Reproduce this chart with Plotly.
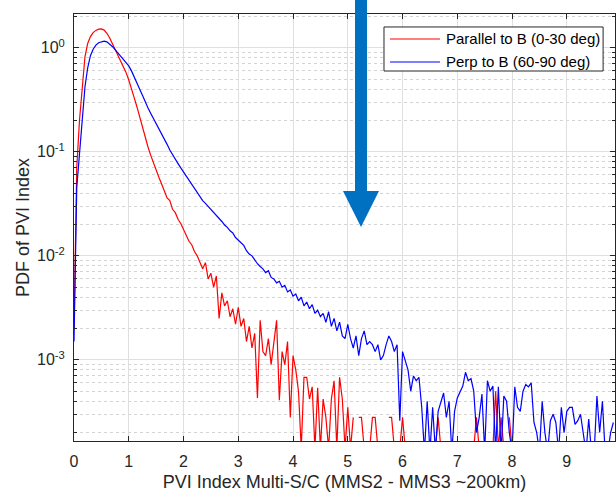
import numpy as np
import plotly.graph_objects as go

# PVI index bin positions (step 0.05)
pvi_bins = np.round(np.arange(198) * 0.05, 2)

# PDF, parallel to B (0-30 deg)  (None = empty bin)
pdf_parallel = [
    2.0e-3, 0.07, 0.2, 0.38, 0.82, 1.1, 1.28, 1.4, 1.47, 1.51,
    1.52, 1.48, 1.38, 1.25, 1.1, 0.97, 0.86, 0.76, 0.67, 0.58,
    0.49, 0.41, 0.33, 0.27, 0.215, 0.175, 0.14, 0.112, 0.093, 0.078,
    0.066, 0.057, 0.049, 0.042, 0.036, 0.034, 0.028, 0.026, 0.0225, 0.0205,
    0.0178, 0.0160, 0.0138, 0.0128, 0.0110, 0.0100, 0.0085, 0.0075, 0.0086, 0.0060,
    0.0068, 0.0050, 0.0064, 0.0025, 0.0044, 0.0033, 0.0037, 0.0026, 0.0031, 0.0022,
    0.0032, 0.0021, 0.0025, 0.0015, 0.0021, 0.0013, 0.0018, 0.00043, 0.0024, 0.0012,
    0.0011, 0.0016, 0.0009, 0.0014, 0.0024, 0.00041, 0.0012, 0.0009, 0.0015, 0.00028,
    0.0011, 0.0008, 0.0005, 0.00014, 0.00068, 0.00068, 0.00042, 0.00055, 0.00014, 0.00054,
    0.00014, 0.00042, 0.00028, 0.00014, 0.00042, 0.00063, 0.00014, 0.00068, 0.00042, 0.00014,
    0.00035, 0.00014, 0.00028, None, 0.00028, 0.00028, 0.00014, None, 0.00014, 0.00028,
    0.00028, 0.00014, None, 0.00014, None, 0.00028, 0.00028, 0.00014, None, 0.00014,
    0.00028, 0.00014, None, None, None, None, None, None, None, None,
    None, None, 0.00014, 0.00028, 0.00014, None, None, None, None, None,
    None, None, None, None, None, None, 0.00014, 0.00028, 0.00014, None,
    None, None, None, 0.00014, 0.0005, 0.00014, 0.00028, 0.00014, None, 0.00028,
    0.00014, None, None, None, None, None, None, None, None, None,
    None, None, None, None, None, None, None, None, None, None,
    None, None, None, None, None, None, None, None, None, None,
    None, None, None, None, None, None, None, None,
]

# PDF, perpendicular to B (60-90 deg)
pdf_perp = [
    1.5e-3, 0.045, 0.095, 0.22, 0.42, 0.64, 0.84, 0.97, 1.06, 1.12,
    1.15, 1.16, 1.14, 1.09, 1.03, 0.96, 0.89, 0.83, 0.77, 0.72,
    0.67, 0.6, 0.53, 0.46, 0.40, 0.35, 0.30, 0.265, 0.235, 0.21,
    0.19, 0.168, 0.148, 0.132, 0.118, 0.104, 0.093, 0.084, 0.077, 0.070,
    0.064, 0.059, 0.054, 0.049, 0.045, 0.041, 0.037, 0.034, 0.032, 0.030,
    0.0275, 0.026, 0.0245, 0.0228, 0.0214, 0.0198, 0.0188, 0.0174, 0.0166, 0.0150,
    0.0142, 0.0133, 0.0126, 0.0112, 0.0104, 0.0100, 0.0091, 0.0084, 0.0079, 0.0075,
    0.0069, 0.0072, 0.0062, 0.0060, 0.0055, 0.0057, 0.0050, 0.0052, 0.0045, 0.0047,
    0.0041, 0.0043, 0.0037, 0.0040, 0.0033, 0.0036, 0.0031, 0.0034, 0.0028, 0.0030,
    0.0026, 0.0028, 0.0023, 0.0029, 0.0021, 0.0025, 0.0019, 0.0023, 0.0017, 0.0016,
    0.0022, 0.0016, 0.0013, 0.0017, 0.0011, 0.0016, 0.0019, 0.0014, 0.0015, 0.0014,
    0.0012, 0.0014, 0.0010, 0.0011, 0.0014, 0.0017, 0.0015, 0.0012, 0.0014, 0.00026,
    0.0012, 0.0010, 0.0008, 0.0005, 0.0007, 0.00063, 0.00068, 0.00035, 0.00013, 0.0004,
    0.00013, 0.00035, 0.00013, 0.00032, 0.0004, 0.00048, 0.00028, 0.0004, 0.00013, 0.00032,
    0.00043, 0.0005, 0.00056, 0.00076, 0.00063, 0.00066, 0.0005, 0.0002, 0.00028, 0.00047,
    0.00013, 0.00063, 0.0005, 0.00056, 0.00013, 0.00055, 0.00013, 0.00045, 0.0004, 0.0002,
    0.00013, 0.00055, 0.00035, 0.00032, 0.0005, 0.00058, 0.00055, 0.0006, 0.00025, 0.0002,
    0.00013, 0.0004, 0.0002, 0.00013, 0.00026, 0.0003, 0.00025, 0.00013, 0.00035, 0.0002,
    0.00032, 0.00035, 0.00035, 0.00024, 0.00026, 0.0003, 0.0002, 0.00013, 0.00027, 0.00013,
    0.00013, 0.00045, 0.0002, 0.0004, 0.00013, 0.00013, 0.0002, 0.00025,
]

series_names = ["Parallel to B (0-30 deg)", "Perp to B (60-90 deg)"]
series_colors = ["#ff0000", "#0000ff"]

x_ticks = list(range(10))
y_ticks = [1e-3, 1e-2, 1e-1, 1.0]
y_tick_text = ["10<sup>-3</sup>", "10<sup>-2</sup>", "10<sup>-1</sup>", "10<sup>0</sup>"]
y_minor = [m * 10.0 ** k for k in range(-4, 1) for m in range(2, 10)]

FONT = "Liberation Sans, Arial, Helvetica, sans-serif"
TXT = "#262626"

fig = go.Figure()
for vals, name, color in zip([pdf_parallel, pdf_perp], series_names, series_colors):
    fig.add_trace(go.Scatter(x=pvi_bins[:len(vals)], y=vals, mode="lines", name=name,
                             line=dict(color=color, width=1.2), connectgaps=False,
                             showlegend=False))

# Legend box drawn in paper coordinates (MATLAB-style compact legend)
LEG = dict(x0=0.573, x1=0.978, y0=0.8665, y1=0.9696)
LEG_ROWS = [0.9415, 0.8876]
LEG_LINE = (0.5841, 0.6765)
LEG_TEXT_X = 0.6839
fig.add_shape(type="rect", xref="paper", yref="paper", layer="above",
              x0=LEG["x0"], x1=LEG["x1"], y0=LEG["y0"], y1=LEG["y1"],
              fillcolor="white", line=dict(color="#262626", width=1))
for row_y, name, color in zip(LEG_ROWS, series_names, series_colors):
    fig.add_shape(type="line", xref="paper", yref="paper", layer="above",
                  x0=LEG_LINE[0], x1=LEG_LINE[1], y0=row_y, y1=row_y,
                  line=dict(color=color, width=1.2))
    fig.add_annotation(xref="paper", yref="paper", x=LEG_TEXT_X, y=row_y,
                       xanchor="left", yanchor="middle", showarrow=False,
                       text=name, font=dict(size=15, color="#000000", family=FONT))

# Decorative down arrow (paper coordinates)
ARROW_COLOR = "#0070C0"
shaft = dict(x0=0.5194, x1=0.5416, y0=0.582, y1=1.04)
head = [(0.4972, 0.5855), (0.5638, 0.5855), (0.5305, 0.5012)]
fig.add_shape(type="rect", xref="paper", yref="paper", layer="above",
              x0=shaft["x0"], x1=shaft["x1"], y0=shaft["y0"], y1=shaft["y1"],
              fillcolor=ARROW_COLOR, line=dict(width=0))
fig.add_shape(type="path", xref="paper", yref="paper", layer="above",
              path="M {} {} L {} {} L {} {} Z".format(*head[0], *head[1], *head[2]),
              fillcolor=ARROW_COLOR, line=dict(width=0))

fig.update_layout(
    width=616, height=492,
    margin=dict(l=74, r=1, t=14, b=51, autoexpand=False),
    paper_bgcolor="white", plot_bgcolor="white",
    font=dict(family=FONT, color=TXT, size=16),
    showlegend=False,
    xaxis=dict(range=[0, 9.88], tickmode="array", tickvals=x_ticks,
               ticks="inside", ticklen=5, tickcolor=TXT, automargin=False,
               showline=True, linecolor=TXT, linewidth=1, mirror="allticks",
               showgrid=True, gridcolor="#dfdfdf", gridwidth=1, zeroline=False,
               tickfont=dict(size=16, color=TXT), ticklabelstandoff=6,
               title=dict(text="PVI Index Multi-S/C (MMS2 - MMS3 ~200km)",
                          font=dict(size=18, color=TXT))),
    yaxis=dict(type="log", range=[-3.78, 0.325], tickmode="array",
               tickvals=y_ticks, ticktext=y_tick_text,
               ticks="inside", ticklen=5, tickcolor=TXT, automargin=False,
               showline=True, linecolor=TXT, linewidth=1, mirror="allticks",
               showgrid=True, gridcolor="#dfdfdf", gridwidth=1, zeroline=False,
               tickfont=dict(size=16, color=TXT), ticklabelstandoff=5,
               minor=dict(tickmode="array", tickvals=y_minor, ticks="inside",
                          ticklen=3, tickcolor=TXT, showgrid=True,
                          gridcolor="#d4d4d4", griddash="dot", gridwidth=1),
               title=dict(text="PDF of PVI Index", font=dict(size=18, color=TXT),
                          standoff=2)),
)

fig.write_html("out.html", config={"displayModeBar": False},
               post_script="document.body.style.margin='0px';")
